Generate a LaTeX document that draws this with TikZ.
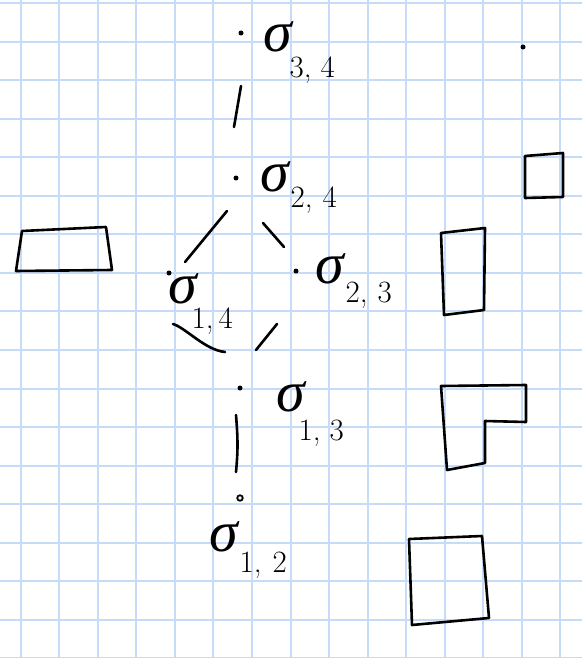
\documentclass[tikz,border=0pt]{standalone}
\usepackage{fontspec}
\newfontfamily\greekf{Liberation Serif}
\usetikzlibrary{calc}
\definecolor{gridblue}{RGB}{198,218,250}
\newcommand\siglab[5]{\fontsize{58}{58}\selectfont{\greekf\itshape σ}\kern#1pt\raisebox{-#2pt}{\fontsize{31}{31}\selectfont #3,\kern#5pt#4}}
\begin{document}
\begin{tikzpicture}[x=1pt,y=-1pt,
  ink/.style={line width=2.6pt,line cap=round,line join=round,black},
  pt/.style={circle,fill=black,inner sep=0pt,minimum size=5pt},
  ring/.style={circle,draw=black,line width=1.8pt,inner sep=0pt,minimum size=5.5pt},
  lab/.style={anchor=base west,inner sep=0pt,outer sep=0pt}]
\fill[white] (0,0) rectangle (582,658);
\useasboundingbox (0,0) rectangle (582,658);
% grid
\foreach \k in {0,...,14} \draw[gridblue,line width=2pt] ({20.7+38.55*\k},0) -- ({20.7+38.55*\k},658);
\foreach \k in {0,...,17} \draw[gridblue,line width=2pt] (0,{3+38.55*\k}) -- (582,{3+38.55*\k});
% points of the poset
\node[pt] (d34) at (241,33) {};
\node[pt] (d24) at (236,178) {};
\node[pt] (d23) at (296,271) {};
\node[pt] (d14) at (169,273) {};
\node[pt] (d13) at (240,388) {};
\node[ring] (d12) at (240,498) {};
\node[pt] (dtr) at (523,47) {};
% labels
\node[lab] (l34) at (263,52) {\siglab{-2}{26}{3}{4}{9}};
\node[lab] (l24) at (260,191) {\siglab{2}{16}{2}{4}{10}};
\node[lab] (l23) at (315,283) {\siglab{2}{19}{2}{3}{10}};
\node[lab] (l14) at (168,303) {\siglab{-5}{25}{1}{4}{5}};
\node[lab] (l13) at (276,411) {\siglab{-6}{29}{1}{3}{9}};
\node[lab] (l12) at (209,551) {\siglab{2}{21}{1}{2}{11}};
% connector strokes
\coordinate (a1) at (241,86);  \coordinate (a2) at (234,127);
\coordinate (b1) at (227,211); \coordinate (b2) at (185,262);
\coordinate (c1) at (263,223); \coordinate (c2) at (284,247);
\coordinate (e1) at (173,324); \coordinate (e2) at (225,352);
\coordinate (f1) at (277,324); \coordinate (f2) at (256,350);
\coordinate (g1) at (236,415); \coordinate (g2) at (236,472);
\draw[ink] (a1) -- (a2);
\draw[ink] (b1) -- (b2);
\draw[ink] (c1) -- (c2);
\draw[ink] (e1) .. controls (186,328) and (205,350) .. (e2);
\draw[ink] (f1) -- (f2);
\draw[ink] (g1) .. controls (238,440) and (238,450) .. (g2);
% Young diagrams
\draw[ink] (22,231) -- (106,227) -- (112,270) -- (16,271) -- cycle;
\draw[ink] (525,156) -- (563,153) -- (563,197) -- (525,198) -- cycle;
\draw[ink] (441,233) -- (485,228) -- (484,310) -- (444,315) -- cycle;
\draw[ink] (441,386) -- (526,385) -- (526,422) -- (485,421) -- (485,463) -- (447,470) -- cycle;
\draw[ink] (409,539) -- (482,536) -- (489,618) -- (412,625) -- cycle;
\end{tikzpicture}
\end{document}
